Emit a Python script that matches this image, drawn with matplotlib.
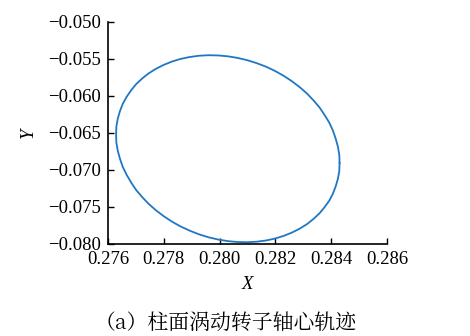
import matplotlib
matplotlib.use("Agg")
import matplotlib.pyplot as plt

# Rotor axis-centre orbit samples (X, Y), one full revolution
orbit_x = [0.28430, 0.28429, 0.28424, 0.28416, 0.28406, 0.28393, 0.28376, 0.28358,
           0.28336, 0.28313, 0.28287, 0.28259, 0.28230, 0.28199, 0.28167, 0.28133,
           0.28099, 0.28064, 0.28030, 0.27995, 0.27960, 0.27926, 0.27893, 0.27860,
           0.27829, 0.27800, 0.27772, 0.27746, 0.27723, 0.27701, 0.27683, 0.27667,
           0.27653, 0.27643, 0.27635, 0.27630, 0.27629, 0.27630, 0.27635, 0.27643,
           0.27653, 0.27667, 0.27683, 0.27701, 0.27723, 0.27746, 0.27772, 0.27800,
           0.27829, 0.27860, 0.27893, 0.27926, 0.27960, 0.27995, 0.28030, 0.28064,
           0.28099, 0.28133, 0.28167, 0.28199, 0.28230, 0.28259, 0.28287, 0.28313,
           0.28336, 0.28358, 0.28376, 0.28393, 0.28406, 0.28416, 0.28424, 0.28429,
           0.28430]
orbit_y = [-0.06905, -0.06796, -0.06685, -0.06575, -0.06466, -0.06359, -0.06255, -0.06154,
           -0.06057, -0.05966, -0.05880, -0.05800, -0.05728, -0.05662, -0.05605, -0.05556,
           -0.05516, -0.05485, -0.05464, -0.05452, -0.05449, -0.05456, -0.05473, -0.05499,
           -0.05535, -0.05579, -0.05632, -0.05693, -0.05762, -0.05839, -0.05922, -0.06010,
           -0.06105, -0.06203, -0.06306, -0.06412, -0.06520, -0.06629, -0.06740, -0.06850,
           -0.06959, -0.07066, -0.07170, -0.07271, -0.07368, -0.07459, -0.07545, -0.07625,
           -0.07697, -0.07763, -0.07820, -0.07869, -0.07909, -0.07940, -0.07961, -0.07973,
           -0.07976, -0.07969, -0.07952, -0.07926, -0.07890, -0.07846, -0.07793, -0.07732,
           -0.07663, -0.07586, -0.07503, -0.07415, -0.07321, -0.07222, -0.07119, -0.07013,
           -0.06905]

x_ticks = [0.276, 0.278, 0.280, 0.282, 0.284, 0.286]
y_ticks = [-0.080, -0.075, -0.070, -0.065, -0.060, -0.055, -0.050]
x_tick_labels = ["0.276", "0.278", "0.280", "0.282", "0.284", "0.286"]
y_tick_labels = ["\u22120.080", "\u22120.075", "\u22120.070", "\u22120.065",
                 "\u22120.060", "\u22120.055", "\u22120.050"]
caption = "（a）柱面涡动转子轴心轨迹"

plt.rcParams["font.family"] = "serif"
plt.rcParams["font.serif"] = ["Liberation Serif", "DejaVu Serif"]

fig = plt.figure(figsize=(4.70, 3.36), dpi=100)
ax = fig.add_axes([108 / 470, 1 - 244 / 336, (387 - 108) / 470, (244 - 22) / 336])

ax.plot(orbit_x, orbit_y, color="#1f77c4", linewidth=1.3,
        solid_capstyle="round", solid_joinstyle="round")

ax.set_xlim(0.276, 0.286)
ax.set_ylim(-0.080, -0.050)
ax.set_xticks(x_ticks)
ax.set_xticklabels(x_tick_labels)
ax.set_yticks(y_ticks)
ax.set_yticklabels(y_tick_labels)
ax.tick_params(direction="in", length=4, width=1.0, labelsize=13.5, pad=5)

for side in ("top", "right"):
    ax.spines[side].set_visible(False)
for side in ("left", "bottom"):
    ax.spines[side].set_linewidth(1.2)

ax.set_xlabel("X", fontsize=13.5, fontstyle="italic", labelpad=6)
ax.set_ylabel("Y", fontsize=13.5, fontstyle="italic", labelpad=8)

fig.text(226 / 470, 1 - 323 / 336, caption, ha="center", va="center",
         fontsize=15, family=["Noto Serif CJK SC", "Noto Sans CJK SC", "DejaVu Sans"])

fig.savefig("out.png", dpi=100)
